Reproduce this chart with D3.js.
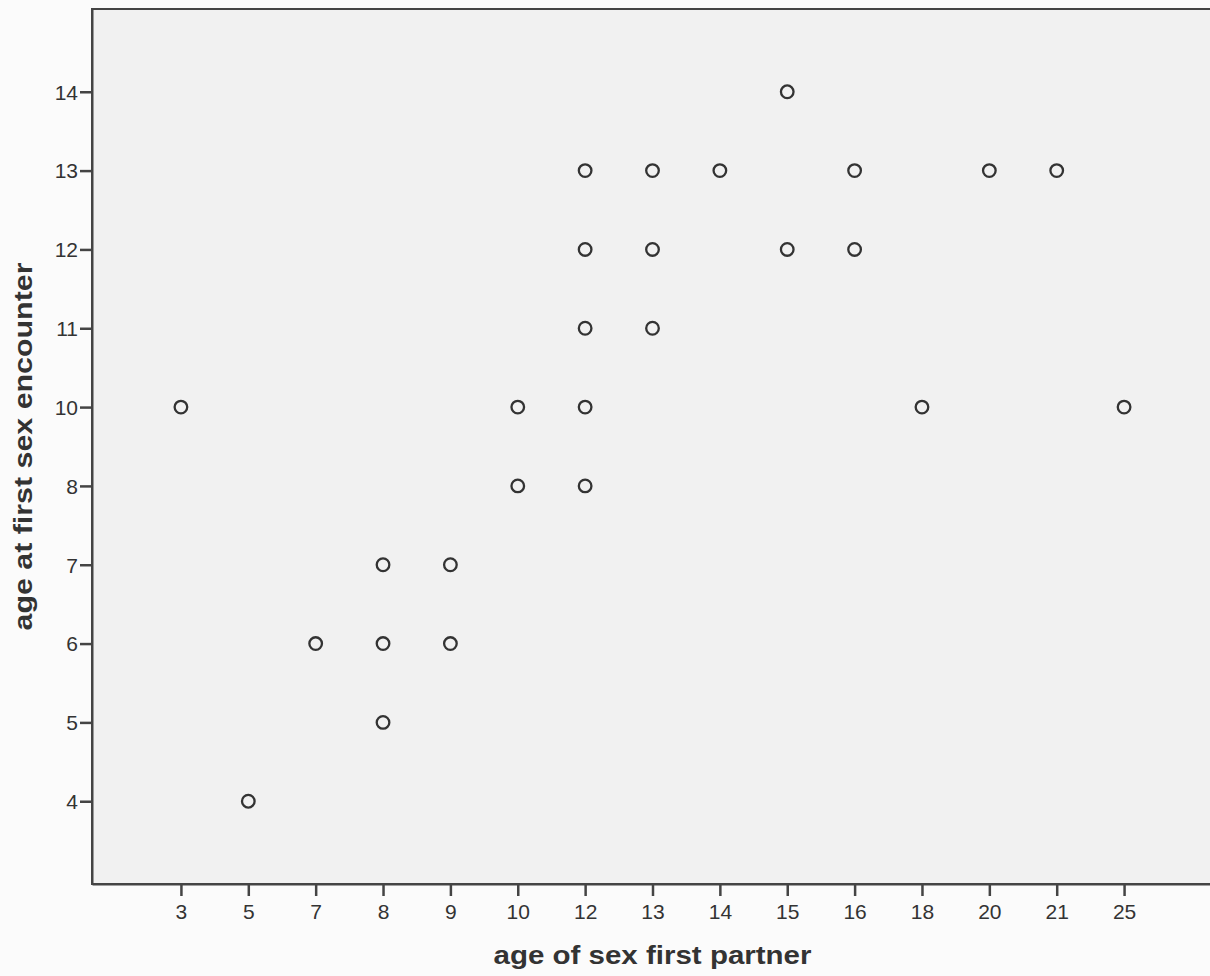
<!DOCTYPE html>
<html>
<head>
<meta charset="utf-8">
<script src="https://cdn.jsdelivr.net/npm/d3@7"></script>
<style>
  html, body { margin: 0; padding: 0; background: #fbfbfb; }
  svg { display: block; }
  text { font-family: "Liberation Sans", Arial, sans-serif; fill: #333; }
</style>
</head>
<body>
<svg id="chart" width="1210" height="976"></svg>
<script>
// Ordinal categories shown on each axis
const xCategories = [3, 5, 7, 8, 9, 10, 12, 13, 14, 15, 16, 18, 20, 21, 25];
const yCategories = [4, 5, 6, 7, 8, 10, 11, 12, 13, 14];

// Observations: age of first partner (x) and age at first encounter (y)
const partnerAge   = [3, 5, 7, 8, 8, 8, 9, 9, 10, 10, 12, 12, 12, 12, 12, 13, 13, 13, 14, 15, 15, 16, 16, 18, 20, 21, 25];
const encounterAge = [10, 4, 6, 7, 6, 5, 7, 6, 10, 8, 13, 12, 11, 10, 8, 13, 12, 11, 13, 14, 12, 13, 12, 10, 13, 13, 10];

const xTitle = "age of sex first partner";
const yTitle = "age at first sex encounter";

const plot = { left: 92, top: 9, right: 1213, bottom: 884 };

const svg = d3.select("#chart");

const x = d3.scalePoint()
  .domain(xCategories)
  .range([plot.left, plot.right])
  .padding(1.32);

const y = d3.scalePoint()
  .domain(yCategories)
  .range([plot.bottom, plot.top])
  .padding(1.05);

// plot background
svg.append("rect")
  .attr("x", plot.left).attr("y", plot.top)
  .attr("width", plot.right - plot.left)
  .attr("height", plot.bottom - plot.top)
  .attr("fill", "#f1f1f1")
  .attr("stroke", "#444")
  .attr("stroke-width", 2);

// axes
const xAxis = svg.append("g")
  .attr("transform", `translate(0,${plot.bottom})`)
  .call(d3.axisBottom(x).tickSizeInner(12).tickSizeOuter(0).tickPadding(8));

const yAxis = svg.append("g")
  .attr("transform", `translate(${plot.left},0)`)
  .call(d3.axisLeft(y).tickSizeInner(12).tickSizeOuter(0).tickPadding(2));

[xAxis, yAxis].forEach(g => {
  g.select(".domain").attr("stroke", "#444").attr("stroke-width", 2);
  g.selectAll(".tick line").attr("stroke", "#444").attr("stroke-width", 2.5);
  g.selectAll(".tick text")
    .attr("font-family", "Liberation Sans, Arial, sans-serif")
    .attr("font-size", 21)
    .attr("fill", "#2d2d2d");
});
xAxis.selectAll(".tick line").attr("y1", 1);
yAxis.selectAll(".tick text").attr("dy", "0.35em");

// markers
const points = partnerAge.map((v, i) => ({ px: v, py: encounterAge[i] }));
svg.append("g")
  .selectAll("circle")
  .data(points)
  .join("circle")
  .attr("cx", d => x(d.px))
  .attr("cy", d => y(d.py))
  .attr("r", 6.3)
  .attr("fill", "none")
  .attr("stroke", "#333")
  .attr("stroke-width", 2.3);

// axis titles
svg.append("text")
  .attr("x", (plot.left + plot.right) / 2)
  .attr("y", 964)
  .attr("text-anchor", "middle")
  .attr("font-size", 25)
  .attr("font-weight", "bold")
  .attr("textLength", 318)
  .attr("lengthAdjust", "spacingAndGlyphs")
  .text(xTitle);

svg.append("text")
  .attr("transform", `translate(32,${(plot.top + plot.bottom) / 2}) rotate(-90)`)
  .attr("text-anchor", "middle")
  .attr("font-size", 25)
  .attr("font-weight", "bold")
  .attr("textLength", 368)
  .attr("lengthAdjust", "spacingAndGlyphs")
  .text(yTitle);
</script>
</body>
</html>
